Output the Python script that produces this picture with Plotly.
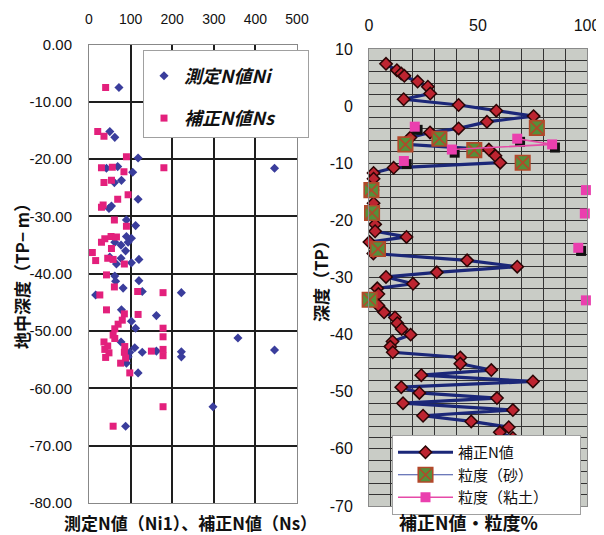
import plotly.graph_objects as go

# ---------------- Left chart data (depth TP m, N values) ----------------
ni_value = [72, 50, 62, 118, 446, 42, 69, 105, 61, 78, 118, 48, 54, 90, 112,
            62, 77, 90, 102, 94, 88, 50, 77, 66, 102, 120, 62, 64, 120, 82,
            128, 222, 16, 78, 162, 102, 112, 358, 77, 110, 98, 94, 90, 118,
            128, 162, 222, 222, 446, 298, 88]
ni_depth = [-7.5, -15.2, -16.2, -19.8, -21.6, -21.6, -21.3, -22.3, -24.1, -23.7,
            -27.0, -28.6, -28.2, -30.6, -31.6, -34.5, -35.0, -33.5, -33.8, -34.5,
            -36.0, -37.1, -37.3, -38.3, -38.1, -37.5, -40.4, -41.3, -41.2, -42.5,
            -43.1, -43.3, -43.7, -46.3, -47.3, -48.3, -49.5, -51.2, -51.9, -52.9,
            -53.7, -54.5, -55.6, -57.3, -53.7, -53.5, -53.6, -54.5, -53.3, -63.2,
            -66.6]

ns_value = [40, 21, 36, 90, 180, 30, 56, 84, 36, 54, 94, 69, 30, 34, 61, 90,
            30, 38, 53, 66, 54, 8, 16, 45, 58, 85, 42, 61, 117, 178, 26, 42,
            85, 118, 80, 70, 62, 58, 178, 178, 178, 178, 36, 45, 38, 48, 40,
            62, 86, 85, 88, 76, 98, 150, 178, 58]
ns_depth = [-7.5, -15.2, -16.0, -19.6, -21.5, -21.5, -21.4, -22.2, -24.1, -23.7,
            -26.2, -27.0, -28.4, -28.0, -30.6, -31.7, -34.5, -33.9, -33.5, -33.6,
            -35.6, -36.3, -37.7, -37.3, -37.5, -38.3, -40.2, -42.3, -43.1, -43.3,
            -43.7, -46.3, -47.0, -47.1, -48.1, -48.8, -49.6, -50.7, -49.5, -51.0,
            -53.2, -54.3, -51.9, -52.6, -53.2, -53.8, -54.6, -51.3, -52.7, -53.7,
            -54.7, -55.6, -57.3, -53.5, -63.2, -66.6]

left_x_ticks = [0, 100, 200, 300, 400, 500]
left_y_ticks = [0, -10, -20, -30, -40, -50, -60, -70, -80]

# ---------------- Right chart data ----------------
n_corr_value = [7.8, 12.8, 14.8, 16.2, 22.3, 27.0, 28.1, 15.9, 41.1, 58.4, 75.5,
                54.1, 41.1, 28.0, 19.0, 17.0, 55.0, 58.0, 60.2, 11.3, 2.1, 2.1,
                1.5, 2.1, 1.5, 2.8, 2.8, 17.2, 0.2, 4.0, 2.0, 45.0, 68.0, 31.1,
                7.8, 20.2, 3.8, 4.3, 1.0, 4.3, 6.9, 11.9, 13.0, 15.0, 19.1, 10.8,
                9.8, 10.9, 41.9, 41.9, 56.1, 24.0, 75.2, 14.8, 23.1, 58.7, 15.6,
                66.0, 24.8, 46.9, 64.1, 60.0, 66.0]
n_corr_depth = [7.4, 6.3, 5.7, 5.3, 4.3, 3.4, 2.2, 1.2, 0.2, -0.8, -1.75,
                -2.75, -3.9, -4.6, -5.5, -6.7, -7.6, -8.7, -9.9, -10.8, -11.7, -12.7,
                -14.7, -17.0, -18.6, -20.7, -21.9, -22.9, -23.8, -25.0, -25.8, -27.0, -28.1, -29.1,
                -29.9, -31.1, -31.9, -32.9, -33.8, -34.9, -36.1, -37.0, -38.0, -39.0, -40.0, -41.2,
                -42.1, -43.1, -44.0, -45.1, -46.2, -47.1, -48.2, -49.2, -50.2, -51.1, -52.0,
                -53.2, -54.2, -55.2, -56.2, -57.1, -58.1]

sand_pct = [77.0, None, 32.3, None, 16.7, None, 48.3, None, 70.5, None, 1.1, None,
            1.4, None, 4.1, None, 0.3]
sand_depth = [-3.8, None, -5.7, None, -6.7, None, -7.7, None, -9.9, None, -14.7, None,
              -18.7, None, -25.0, None, -33.9]

clay_pct = [21.0, None, 68.0, 84.0, 38.0, None, 16.0, None, 99.5, None, 99.0, None,
            96.0, None, 99.5]
clay_depth = [-3.6, None, -5.7, -6.7, -7.6, None, -9.6, None, -14.7, None, -18.8, None,
              -24.8, None, -34.0]

right_x_ticks = [0, 50, 100]
right_y_ticks = [10, 0, -10, -20, -30, -40, -50, -60, -70]

# The page body keeps an 8px margin, so the figure is sized to fill the
# rest of the 604x535 window and screen positions are converted to paper units.
OFF = 8
W, H = 604 - OFF, 535 - OFF
def px_x(p):
    return (p - OFF) / W
def px_y(p):
    return (535 - p) / H

TICKFONT = "Liberation Sans, Arial, sans-serif"
CJK = "Noto Sans CJK JP, sans-serif"
NB = "\u00a0"

fig = go.Figure()

# left traces
fig.add_trace(go.Scatter(
    x=ni_value, y=ni_depth, mode="markers", name="<b><i>測定N値Ni</i></b>" + NB * 7,
    marker=dict(symbol="diamond", size=7, color="#3a3d9c"),
    xaxis="x", yaxis="y", legend="legend", legendgroup="a"))
fig.add_trace(go.Scatter(
    x=ns_value, y=ns_depth, mode="markers", name="<b><i>補正N値Ns</i></b>" + NB * 7,
    marker=dict(symbol="square", size=7, color="#e3207c"),
    xaxis="x", yaxis="y", legend="legend", legendgroup="b"))

# right traces
fig.add_trace(go.Scatter(
    x=n_corr_value, y=n_corr_depth, mode="lines+markers", name="補正N値",
    line=dict(color="#1b2778", width=3.2),
    marker=dict(symbol="diamond", size=9.5, color="#bd2430",
                line=dict(color="#2a0505", width=1.5)),
    cliponaxis=False,
    xaxis="x2", yaxis="y2", legend="legend2"))
fig.add_trace(go.Scatter(
    x=sand_pct, y=sand_depth, mode="lines+markers", name="粒度（砂）",
    line=dict(color="#3c4ea3", width=1.2),
    marker=dict(symbol="square-x", size=14.5, color="#55903a",
                line=dict(color="#b2482a", width=1.6)),
    cliponaxis=False,
    xaxis="x2", yaxis="y2", legend="legend2"))
shadow_x = [v + 1.3 if v is not None else None for v in clay_pct]
shadow_y = [d - 0.55 if d is not None else None for d in clay_depth]
fig.add_trace(go.Scatter(
    x=shadow_x, y=shadow_y, mode="markers", showlegend=False,
    marker=dict(symbol="square", size=10, color="#111111"),
    cliponaxis=False,
    xaxis="x2", yaxis="y2", hoverinfo="skip"))
fig.add_trace(go.Scatter(
    x=clay_pct, y=clay_depth, mode="lines+markers", name="粒度（粘土）" + NB * 8,
    line=dict(color="#e64aa8", width=1.6),
    marker=dict(symbol="square", size=10, color="#ea3fae"),
    cliponaxis=False,
    xaxis="x2", yaxis="y2", legend="legend2"))

grid_dark = "#1e1e1e"
fig.update_layout(
    width=W, height=H,
    margin=dict(l=0, r=0, t=0, b=0, autoexpand=False),
    paper_bgcolor="white", plot_bgcolor="white",
    font=dict(family=TICKFONT, color="#111111"),
    xaxis=dict(domain=[px_x(89), px_x(297)], range=[0, 500], side="top",
               anchor="y", tickmode="array", tickvals=left_x_ticks,
               ticktext=[str(v) for v in left_x_ticks], automargin=False,
               tickfont=dict(size=14, family=TICKFONT), ticks="",
               ticklabelstandoff=14,
               showgrid=True, gridcolor=grid_dark, gridwidth=1.5,
               zeroline=False, showline=True, linecolor="#888888", linewidth=1,
               mirror=True),
    yaxis=dict(domain=[px_y(503), px_y(44.5)], range=[-80, 0], anchor="x",
               tickmode="array", tickvals=left_y_ticks, automargin=False,
               ticktext=[f"{v:.2f}" for v in left_y_ticks],
               tickfont=dict(size=15, family=TICKFONT), ticks="",
               ticklabelstandoff=13,
               showgrid=True, gridcolor=grid_dark, gridwidth=1.5,
               zeroline=False, showline=True, linecolor="#888888", linewidth=1,
               mirror=True),
    xaxis2=dict(domain=[px_x(369), px_x(587)], range=[0, 100], side="top",
                anchor="y2", tickmode="array", tickvals=right_x_ticks,
                ticktext=[str(v) for v in right_x_ticks], automargin=False,
                tickfont=dict(size=16, family=TICKFONT), ticks="", ticklen=0,
                ticklabelstandoff=11,
                showgrid=True, gridcolor="#333333", gridwidth=1.3,
                minor=dict(tickmode="linear", tick0=0, dtick=10, showgrid=True,
                           gridcolor="#333333", gridwidth=1.3, ticks="", ticklen=0),
                zeroline=False, showline=True, linecolor="#8a8a8a", linewidth=1,
                mirror=True),
    yaxis2=dict(domain=[px_y(506), px_y(49)], range=[-70, 10], anchor="x2",
                tickmode="array", tickvals=right_y_ticks, automargin=False,
                ticktext=[str(v) for v in right_y_ticks],
                tickfont=dict(size=16, family=TICKFONT), ticks="", ticklen=0,
                ticklabelstandoff=12,
                showgrid=True, gridcolor="#333333", gridwidth=1.3,
                minor=dict(tickmode="linear", tick0=0, dtick=2, showgrid=True,
                           gridcolor="#333333", gridwidth=1.3, ticks="", ticklen=0),
                zeroline=False, showline=True, linecolor="#8a8a8a", linewidth=1,
                mirror=True),
    legend=dict(x=px_x(143), y=px_y(50), xanchor="left", yanchor="top",
                bgcolor="white", bordercolor="#a0a0a0", borderwidth=1,
                font=dict(family=CJK, size=18, color="#111111"),
                title=dict(text=NB, font=dict(size=5)),
                traceorder="grouped", tracegroupgap=16, itemwidth=30),
    legend2=dict(x=px_x(392), y=px_y(435), xanchor="left", yanchor="top",
                 bgcolor="white", bordercolor="#a0a0a0", borderwidth=1,
                 font=dict(family=CJK, size=15, color="#111111"),
                 itemwidth=55, tracegroupgap=0),
    shapes=[dict(type="rect", xref="x2 domain", yref="y2 domain",
                 x0=0, x1=1, y0=0, y1=1, fillcolor="#c9ccc6",
                 line=dict(width=0), layer="below")],
    annotations=[
        dict(text="<b>測定N値（Ni1）、補正N値（Ns）</b>", x=px_x(190), y=px_y(522),
             xref="paper", yref="paper", showarrow=False,
             xanchor="center", yanchor="middle",
             font=dict(family=CJK, size=17, color="#111111")),
        dict(text="<b>補正N値・粒度%</b>", x=px_x(468), y=px_y(522),
             xref="paper", yref="paper", showarrow=False,
             xanchor="center", yanchor="middle",
             font=dict(family=CJK, size=18, color="#111111")),
        dict(text="<b>地中深度（TP− m）</b>", x=px_x(21), y=px_y(272),
             xref="paper", yref="paper", showarrow=False, textangle=-90,
             xanchor="center", yanchor="middle",
             font=dict(family=CJK, size=17, color="#111111")),
        dict(text="<b>深度（TP）</b>", x=px_x(320), y=px_y(277),
             xref="paper", yref="paper", showarrow=False, textangle=-90,
             xanchor="center", yanchor="middle",
             font=dict(family=CJK, size=17, color="#111111")),
    ],
)

fig.write_html("out.html")
